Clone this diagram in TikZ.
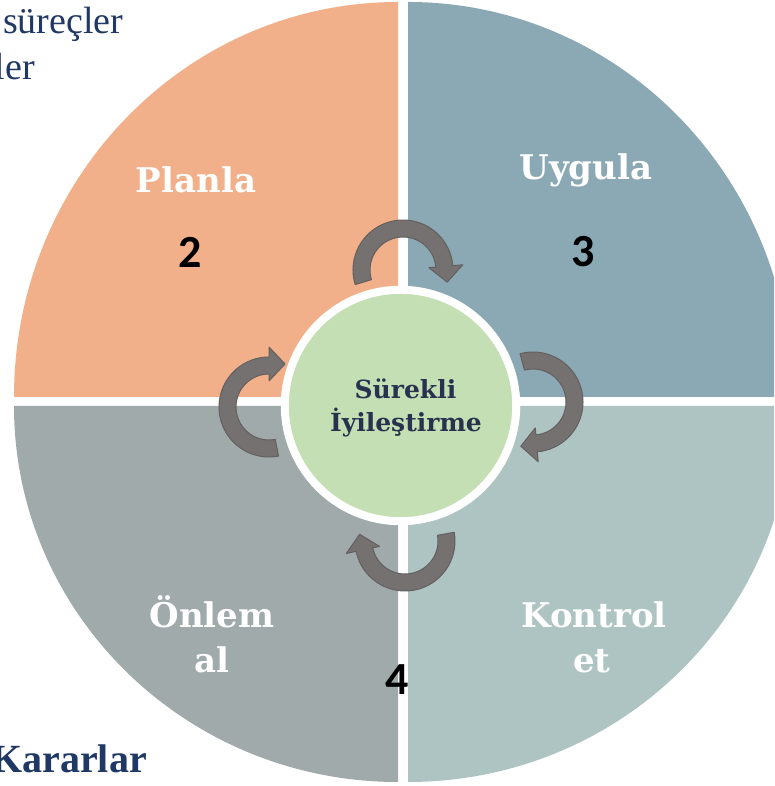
\documentclass[tikz,border=0pt]{standalone}
\usepackage{fontspec}
\usetikzlibrary{calc}
\newfontfamily\dvs{DejaVu Serif}
\newfontfamily\carl{Carlito}
\newfontfamily\libs{Liberation Serif}
\definecolor{qorange}{RGB}{241,176,137}
\definecolor{qblue}{RGB}{139,169,180}
\definecolor{qgray}{RGB}{160,170,171}
\definecolor{qmint}{RGB}{174,196,195}
\definecolor{cgreen}{RGB}{197,223,180}
\definecolor{afill}{RGB}{118,113,113}
\definecolor{aline}{RGB}{100,96,96}
\definecolor{navy}{RGB}{40,50,78}
\definecolor{tnavy}{RGB}{32,56,100}
\tikzset{
  arrowstyle/.style={fill=afill, draw=aline, line width=1pt, line join=round},
  quadlabel/.style={text=white, font=\dvs\bfseries\fontsize{34}{40}\selectfont, anchor=base, inner sep=0pt},
  numlabel/.style={text=black, font=\carl\bfseries\fontsize{46}{50}\selectfont, inner sep=0pt},
  corelabel/.style={text=navy, font=\dvs\bfseries\fontsize{25}{30}\selectfont, anchor=base, inner sep=0pt},
  sidelabel/.style={text=tnavy, font=\libs\fontsize{38}{44}\selectfont, inner sep=0pt}
}
\newcommand\cycarrow[4]{%
  \filldraw[arrowstyle] ($(#1,#2)+(#3:50)$) arc[start angle=#3, end angle=#4, radius=50]
    -- ($(#1,#2)+(#4:60)$) -- ($(#1,#2)+(#4:43)+(#4-90:16)$) -- ($(#1,#2)+(#4:26)$)
    -- ($(#1,#2)+(#4:33)$) arc[start angle=#4, end angle=#3, radius=33] -- cycle;}
\begin{document}
\begin{tikzpicture}[x=1pt,y=1pt]
\clip (0,0) rectangle (774,786);
\fill[white] (0,0) rectangle (774,786);
% quadrants
\fill[qorange] (398,389) -- (14,389) arc[start angle=180, end angle=90, x radius=384, y radius=395] -- cycle;
\fill[qblue] (408,389) -- (408,784) arc[start angle=90, end angle=0, x radius=384, y radius=395] -- cycle;
\fill[qgray] (398,380) -- (398,4) arc[start angle=270, end angle=180, x radius=384, y radius=376] -- cycle;
\fill[qmint] (408,380) -- (792,380) arc[start angle=0, end angle=-90, x radius=384, y radius=376] -- cycle;
% centre circle
\node[circle, fill=cgreen, draw=white, line width=8pt, minimum size=231.5pt, inner sep=0pt, outer sep=0pt] (core) at (400.5,380.5) {};
\node[corelabel] (surekli) at (405.5,387) {Sürekli};
\node[corelabel] (iyi) at (406,354) {İyileştirme};
% arrows
\cycarrow{403}{516}{197}{5}
\cycarrow{533}{384}{105}{-85}
\cycarrow{405}{245}{10}{-168}
\cycarrow{269}{379}{-79}{-270}
% quadrant labels
\node[quadlabel] (planla) at (196,593) {Planla};
\node[quadlabel] (uygula) at (586,606) {Uygula};
\node[quadlabel] (onlem) at (212,158) {Önlem};
\node[quadlabel] (al) at (212,113) {al};
\node[quadlabel] (kontrol) at (594,158) {Kontrol};
\node[quadlabel] (et) at (592,113) {et};
% numbers
\node[numlabel] (n2) at (190,534) {2};
\node[numlabel] (n3) at (583,534) {3};
\node[numlabel] (n4) at (397,106) {4};
% side texts
\node[sidelabel, anchor=base west] (surec) at (3,752) {süreçler};
\node[sidelabel, anchor=base east] (ler) at (35,706) {ler};
\node[sidelabel, anchor=base east, font=\libs\bfseries\fontsize{40}{46}\selectfont] (karar) at (147,13) {Kararlar};
\end{tikzpicture}
\end{document}
